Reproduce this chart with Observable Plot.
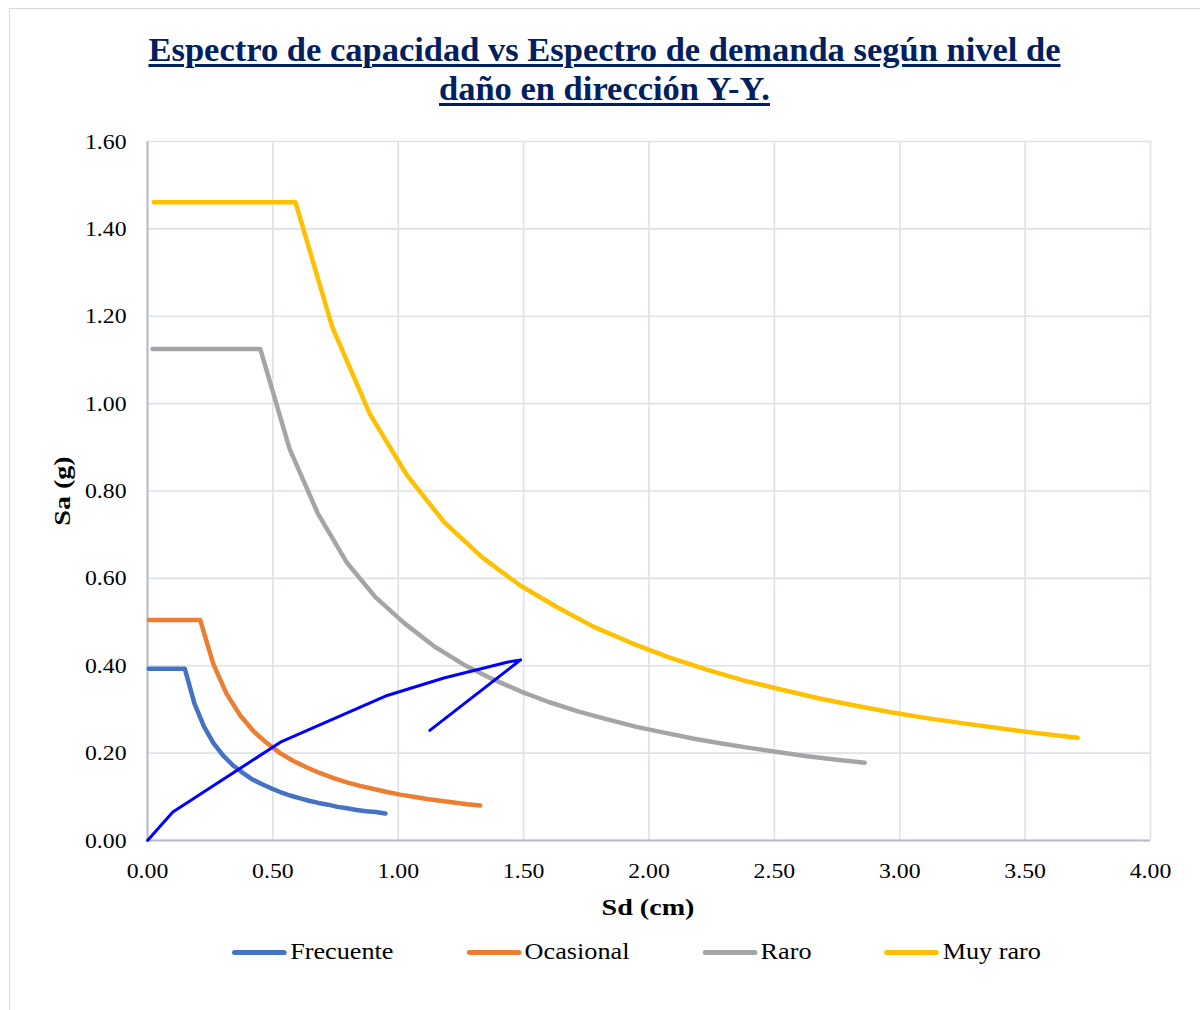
<!DOCTYPE html>
<html><head><meta charset="utf-8">
<script src="https://cdn.jsdelivr.net/npm/d3@7"></script>
<script src="https://cdn.jsdelivr.net/npm/@observablehq/plot@0.6"></script>
<style>
body{margin:0;background:#fff;width:1200px;height:1010px;overflow:hidden;position:relative;font-family:"Liberation Serif","Times New Roman",serif}
#frame{position:absolute;left:9px;top:8px;width:1200px;height:1010px;border:1px solid #d9d9d9;box-sizing:border-box}
#title{position:absolute;left:9px;width:1191px;top:30px;text-align:center;font-weight:bold;font-size:34.5px;line-height:39px;color:#002060;text-decoration:underline;text-decoration-thickness:3px;text-underline-offset:3px}
#chart{position:absolute;left:0;top:120px}
.axt{position:absolute;font-weight:bold;font-size:24px;color:#000;white-space:nowrap}
#xt{left:648px;top:907px;transform:translate(-50%,-50%) scaleX(1.17)}
#yt{left:62px;top:491px;transform:translate(-50%,-50%) rotate(-90deg) scaleX(1.17)}
#legend{position:absolute;left:232px;top:937px;display:flex;gap:64px;font-size:23px;line-height:30px;transform:scaleX(1.14);transform-origin:0 50%;white-space:nowrap}
.item{display:flex;align-items:center}
.sw{width:48px;height:5px;border-radius:3px;margin-right:3px}
</style></head>
<body>
<div id="frame"></div>
<div id="title">Espectro de capacidad vs Espectro de demanda según nivel de<br>daño en dirección Y-Y.</div>
<div id="chart"></div>
<div class="axt" id="xt">Sd (cm)</div>
<div class="axt" id="yt">Sa (g)</div>
<div id="legend"></div>
<script>
const levels = ["Frecuente", "Ocasional", "Raro", "Muy raro"];
const colors = ["#4472C4", "#ED7D31", "#A5A5A5", "#FFC000"];

const frecSd = [0.005, 0.149, 0.187, 0.225, 0.263, 0.301, 0.339, 0.377, 0.415, 0.453, 0.491, 0.529, 0.568, 0.606, 0.644, 0.682, 0.720, 0.758, 0.796, 0.834, 0.872, 0.910, 0.949];
const frecSa = [0.393, 0.393, 0.314, 0.261, 0.223, 0.195, 0.173, 0.156, 0.141, 0.130, 0.120, 0.111, 0.103, 0.097, 0.091, 0.086, 0.082, 0.077, 0.074, 0.070, 0.067, 0.065, 0.062];

const ocaSd = [0.005, 0.210, 0.263, 0.316, 0.370, 0.423, 0.476, 0.529, 0.582, 0.636, 0.689, 0.742, 0.795, 0.848, 0.902, 0.955, 1.008, 1.061, 1.114, 1.168, 1.221, 1.274, 1.327];
const ocaSa = [0.505, 0.505, 0.403, 0.335, 0.286, 0.250, 0.223, 0.200, 0.182, 0.167, 0.154, 0.143, 0.133, 0.125, 0.118, 0.111, 0.105, 0.100, 0.095, 0.091, 0.087, 0.083, 0.080];

const raroSd = [0.020, 0.450, 0.567, 0.679, 0.794, 0.909, 1.025, 1.142, 1.260, 1.370, 1.490, 1.600, 1.720, 1.830, 1.950, 2.060, 2.180, 2.290, 2.400, 2.520, 2.630, 2.750, 2.860];
const raroSa = [1.125, 1.125, 0.896, 0.749, 0.637, 0.557, 0.497, 0.445, 0.403, 0.371, 0.341, 0.317, 0.295, 0.278, 0.260, 0.247, 0.233, 0.222, 0.212, 0.202, 0.193, 0.185, 0.178];

const muySd = [0.025, 0.590, 0.737, 0.887, 1.036, 1.184, 1.335, 1.488, 1.634, 1.780, 1.930, 2.080, 2.230, 2.380, 2.530, 2.680, 2.820, 2.970, 3.120, 3.270, 3.420, 3.560, 3.710];
const muySa = [1.461, 1.461, 1.175, 0.976, 0.835, 0.728, 0.648, 0.583, 0.534, 0.489, 0.452, 0.419, 0.391, 0.366, 0.345, 0.325, 0.309, 0.293, 0.279, 0.267, 0.255, 0.245, 0.235];

const capSd = [0, 0.101, 0.530, 0.956, 1.182, 1.434, 1.488, 1.126];
const capSa = [0, 0.065, 0.225, 0.332, 0.372, 0.408, 0.4135, 0.252];

const xTicks = [0, 0.5, 1, 1.5, 2, 2.5, 3, 3.5, 4];
const yTicks = [0, 0.2, 0.4, 0.6, 0.8, 1.0, 1.2, 1.4, 1.6];

const seriesSd = [frecSd, ocaSd, raroSd, muySd];
const seriesSa = [frecSa, ocaSa, raroSa, muySa];
const rows = [];
levels.forEach((lv, i) => seriesSd[i].forEach((sd, j) => rows.push({level: lv, sd, sa: seriesSa[i][j]})));
const cap = capSd.map((sd, i) => ({sd, sa: capSa[i]}));

const fmt = d3.format(".2f");
const grid = "#dde1e8";
const axisC = "#b4bccc";

const chart = Plot.plot({
  width: 1200, height: 780,
  marginLeft: 147, marginRight: 50, marginTop: 21, marginBottom: 60,
  style: {fontFamily: "'Liberation Serif', 'Times New Roman', serif", fontSize: "22px", color: "#000", background: "transparent", overflow: "visible"},
  x: {domain: [0, 4]},
  y: {domain: [0, 1.6]},
  color: {domain: levels, range: colors},
  marks: [
    Plot.gridX(xTicks, {stroke: grid, strokeOpacity: 1, strokeWidth: 1.6}),
    Plot.gridY(yTicks, {stroke: grid, strokeOpacity: 1, strokeWidth: 1.6}),
    Plot.ruleY([0], {stroke: axisC, strokeWidth: 2}),
    Plot.ruleX([0], {stroke: axisC, strokeWidth: 2}),
    Plot.axisX(xTicks, {tickSize: 0, tickPadding: 22, tickFormat: fmt, label: null}),
    Plot.axisY(yTicks, {tickSize: 0, tickPadding: 21, tickFormat: fmt, label: null}),
    Plot.line(rows, {x: "sd", y: "sa", z: "level", stroke: "level", strokeWidth: 4.5, strokeLinecap: "round", strokeLinejoin: "round"}),
    Plot.line(cap, {x: "sd", y: "sa", stroke: "#0000FF", strokeWidth: 3, strokeLinecap: "round", strokeLinejoin: "round"})
  ]
});
document.getElementById("chart").appendChild(chart);

// widen tick labels horizontally to match the reference's wider glyphs
const isNum = v => v !== null && v.trim() !== "" && isFinite(+v);
chart.querySelectorAll('g[aria-label$="tick label"] text').forEach(t => {
  const x = t.getAttribute("x"), y = t.getAttribute("y");
  let tx = 0, ty = 0;
  if (isNum(x)) { tx = +x; t.removeAttribute("x"); }
  if (isNum(y)) { ty = +y; t.removeAttribute("y"); }
  const tr = t.getAttribute("transform") || "";
  t.setAttribute("transform", `${tr} translate(${tx},${ty}) scale(1.08,1)`.trim());
});

const lg = document.getElementById("legend");
levels.forEach((lv, i) => {
  const it = document.createElement("div"); it.className = "item";
  const sw = document.createElement("div"); sw.className = "sw"; sw.style.background = colors[i];
  const tx = document.createElement("span"); tx.textContent = lv;
  it.appendChild(sw); it.appendChild(tx); lg.appendChild(it);
});
</script>
</body></html>
